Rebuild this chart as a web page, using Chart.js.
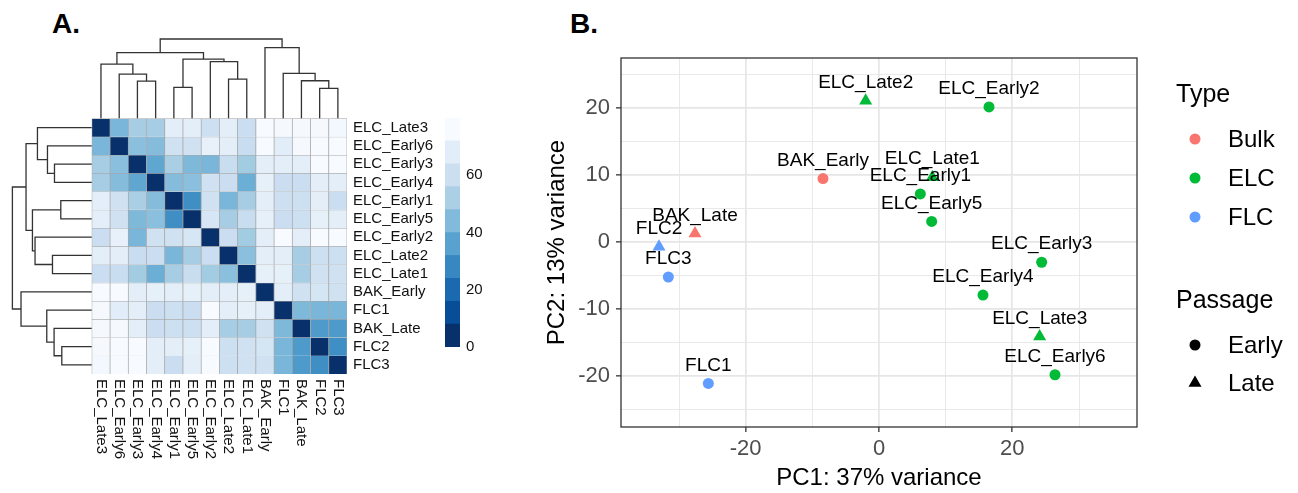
<!DOCTYPE html>
<html lang="en">
<head>
<meta charset="UTF-8">
<title>Sample distances and PCA</title>
<script src="https://cdn.jsdelivr.net/npm/chart.js"></script>
<style>
  body { margin: 0; background: #fff; font-family: "Liberation Sans", Arial, sans-serif; }
  .wrap { position: relative; width: 1298px; height: 493px; overflow: hidden; background: #fff; }
  .wrap canvas { position: absolute; }
  .tag { position: absolute; font-weight: bold; font-size: 28px; line-height: 1; color: #000; }
</style>
</head>
<body>
<div class="wrap">
  <div class="tag" style="left:52px; top:10px">A.</div>
  <div class="tag" style="left:570px; top:10px">B.</div>
  <canvas id="heat" style="left:0; top:0" width="440" height="493"></canvas>
  <canvas id="colorbar" style="left:430px; top:100px" width="80" height="270"></canvas>
  <canvas id="pca" style="left:530px; top:0" width="768" height="493"></canvas>
</div>

<script>
// ---- panel A: sample-to-sample distances (rows/columns in clustered order) ----
const sampleOrder = ['ELC_Late3', 'ELC_Early6', 'ELC_Early3', 'ELC_Early4', 'ELC_Early1', 'ELC_Early5',
  'ELC_Early2', 'ELC_Late2', 'ELC_Late1', 'BAK_Early', 'FLC1', 'BAK_Late', 'FLC2', 'FLC3'];

const distances = [
  [ 0, 43, 52, 52, 72, 72, 63, 72, 62, 80, 79, 79, 79, 78],
  [43,  0, 46, 45, 64, 64, 74, 72, 61, 80, 71, 79, 80, 80],
  [52, 46,  0, 37, 53, 44, 43, 61, 51, 72, 72, 72, 80, 80],
  [52, 45, 37,  0, 45, 46, 64, 62, 40, 73, 62, 62, 72, 72],
  [72, 64, 53, 45,  0, 29, 64, 43, 52, 72, 63, 63, 72, 62],
  [72, 64, 44, 46, 29,  0, 67, 52, 61, 73, 62, 63, 73, 72],
  [62, 74, 43, 64, 64, 67,  0, 62, 51, 72, 80, 72, 80, 80],
  [72, 72, 61, 62, 43, 52, 62,  0, 46, 72, 72, 52, 63, 63],
  [62, 61, 51, 40, 52, 61, 51, 46,  0, 73, 73, 52, 64, 64],
  [80, 80, 72, 73, 72, 73, 72, 72, 73,  0, 72, 64, 66, 64],
  [79, 71, 72, 62, 63, 62, 80, 72, 73, 72,  0, 44, 43, 43],
  [79, 79, 72, 62, 63, 63, 72, 52, 52, 64, 44,  0, 33, 33],
  [79, 80, 80, 72, 72, 73, 80, 63, 64, 66, 43, 33,  0, 29],
  [78, 80, 80, 72, 62, 72, 80, 63, 64, 64, 43, 33, 29,  0]
];

// hclust-style merges: negative = leaf (1-based position), positive = earlier merge
const mergeLeft   = [-13, -5, -3, -12, -8, -2, -11, -1, -7,  2,  8, -10, 11];
const mergeRight  = [-14, -6, -4,   1, -9,  3,   4,  6,  5,  9, 10,   7, 12];
const mergeHeight = [30, 31, 37.3, 37.7, 39.3, 44.3, 45, 54.3, 56.7, 59.3, 65.7, 70.7, 79.3];

const legendBreaks = [0, 8, 16, 24, 32, 40, 48, 56, 64, 72, 80];
const legendTicks = [0, 20, 40, 60];

// ---- panel B: PCA ----
const sampleNames = ['ELC_Late2', 'ELC_Early2', 'BAK_Early', 'ELC_Late1', 'ELC_Early1', 'ELC_Early5', 'BAK_Late',
  'FLC2', 'FLC3', 'FLC1', 'ELC_Early3', 'ELC_Early4', 'ELC_Late3', 'ELC_Early6'];
const pc1 = [-2.0, 16.5, -8.4, 8.0, 6.2, 7.9, -27.6, -33.0, -31.6, -25.6, 24.4, 15.6, 24.1, 26.4];
const pc2 = [21.1, 20.2, 9.5, 9.7, 7.2, 3.1, 1.3, -0.7, -5.2, -21.1, -3.0, -7.9, -14.1, -19.8];
const sampleType = ['ELC', 'ELC', 'Bulk', 'ELC', 'ELC', 'ELC', 'Bulk', 'FLC', 'FLC', 'FLC', 'ELC', 'ELC', 'ELC', 'ELC'];
const samplePassage = ['Late', 'Early', 'Early', 'Late', 'Early', 'Early', 'Late', 'Late', 'Early', 'Early',
  'Early', 'Early', 'Late', 'Early'];
const typeLevels = ['Bulk', 'ELC', 'FLC'];
const passageLevels = ['Early', 'Late'];
const xBreaks = [-20, 0, 20];
const xMinor = [-30, -10, 10, 30];
const yBreaks = [-20, -10, 0, 10, 20];
const yMinor = [-25, -15, -5, 5, 15, 25];

// styling
const FONT = '"Liberation Sans", Arial, sans-serif';
Chart.defaults.font.family = FONT;
const blues = ['#08306B', '#08519C', '#2171B5', '#4292C6', '#6BAED6', '#9ECAE1', '#C6DBEF', '#DEEBF7', '#F7FBFF'];
const typeColors = { Bulk: '#F8766D', ELC: '#00BA38', FLC: '#619CFF' };
const distMax = 80;
const dendroCells = 4.36; // room for the dendrograms, in cell units

function hexRgb(h) {
  const n = parseInt(h.slice(1), 16);
  return [(n >> 16) & 255, (n >> 8) & 255, n & 255];
}
function distColor(v) {
  const t = Math.max(0, Math.min(1, v / distMax)) * (blues.length - 1);
  const i = Math.min(Math.floor(t), blues.length - 2);
  const f = t - i;
  const a = hexRgb(blues[i]), b = hexRgb(blues[i + 1]);
  const c = a.map((x, k) => Math.round(x + (b[k] - x) * f));
  return 'rgb(' + c.join(',') + ')';
}

const nRows = sampleOrder.length;

// heatmap cells: one floating-bar dataset per row
const cellSets = distances.map((row, r) => ({
  type: 'bar',
  grouped: false,
  barPercentage: 1,
  categoryPercentage: 1,
  data: row.map((v, c) => ({ x: c + 0.5, y: [nRows - r - 1, nRows - r] })),
  backgroundColor: row.map(v => distColor(v)),
  borderColor: '#a6a6a6',
  borderWidth: 0.7
}));

// dendrogram segments
const hScale = dendroCells / Math.max(...mergeHeight);
const nodePos = [], nodeH = [];
const topSets = [], leftSets = [];
mergeHeight.forEach((h, j) => {
  const side = k => k < 0 ? [-k - 0.5, 0] : [nodePos[k - 1], nodeH[k - 1]];
  const [pa, ha] = side(mergeLeft[j]);
  const [pb, hb] = side(mergeRight[j]);
  nodePos.push((pa + pb) / 2);
  nodeH.push(h);
  const line = {
    type: 'line', borderColor: '#333', borderWidth: 1.3, pointRadius: 0,
    tension: 0, fill: false, clip: false
  };
  topSets.push(Object.assign({}, line, {
    data: [[pa, ha], [pa, h], [pb, h], [pb, hb]].map(([p, v]) => ({ x: p, y: nRows + v * hScale }))
  }));
  leftSets.push(Object.assign({}, line, {
    data: [[pa, ha], [pa, h], [pb, h], [pb, hb]].map(([p, v]) => ({ x: -v * hScale, y: nRows - p }))
  }));
});

const columnLabels = {
  id: 'columnLabels',
  afterDraw(chart) {
    const { ctx, chartArea, scales } = chart;
    ctx.save();
    ctx.font = '15px ' + FONT;
    ctx.fillStyle = '#111';
    ctx.textAlign = 'left';
    ctx.textBaseline = 'middle';
    sampleOrder.forEach((name, c) => {
      ctx.save();
      ctx.translate(scales.x.getPixelForValue(c + 0.5), chartArea.bottom + 5);
      ctx.rotate(Math.PI / 2);
      ctx.fillText(name, 0, 0);
      ctx.restore();
    });
    ctx.restore();
  }
};

new Chart(document.getElementById('heat'), {
  type: 'bar',
  data: { datasets: cellSets.concat(topSets, leftSets) },
  options: {
    responsive: false,
    animation: false,
    events: [],
    layout: { padding: { left: 12.4, top: 39, right: 0, bottom: 119 } },
    plugins: { legend: { display: false }, tooltip: { enabled: false } },
    scales: {
      x: {
        type: 'linear', min: -dendroCells, max: nRows, offset: false, display: false,
        afterBuildTicks: axis => { axis.ticks = sampleOrder.map((n, c) => ({ value: c + 0.5 })); }
      },
      y: {
        type: 'linear', position: 'right', min: 0, max: nRows + dendroCells,
        grid: { display: false, drawTicks: false },
        border: { display: false },
        afterBuildTicks: axis => { axis.ticks = sampleOrder.map((n, r) => ({ value: nRows - r - 0.5 })); },
        afterFit: axis => { axis.width = 93; },
        ticks: {
          autoSkip: false, padding: 6, color: '#111', font: { size: 15 },
          callback: (v, i) => sampleOrder[i]
        }
      }
    }
  },
  plugins: [columnLabels]
});

// colour key
new Chart(document.getElementById('colorbar'), {
  type: 'bar',
  data: {
    labels: [''],
    datasets: legendBreaks.slice(0, -1).map((lo, k) => ({
      data: [[lo, legendBreaks[k + 1]]],
      grouped: false,
      barPercentage: 1,
      categoryPercentage: 1,
      backgroundColor: distColor(k * distMax / (legendBreaks.length - 2)),
      borderWidth: 0
    }))
  },
  options: {
    responsive: false,
    animation: false,
    events: [],
    layout: { padding: { left: 15, top: 18, right: 0, bottom: 23 } },
    plugins: { legend: { display: false }, tooltip: { enabled: false } },
    scales: {
      x: { display: false },
      y: {
        position: 'right', min: 0, max: distMax,
        grid: { display: false, drawTicks: false },
        border: { display: false },
        afterBuildTicks: axis => { axis.ticks = legendTicks.map(v => ({ value: v })); },
        afterFit: axis => { axis.width = 50; },
        ticks: { padding: 6, color: '#111', font: { size: 15 } }
      }
    }
  }
});

// ---- panel B ----
const pcaDecor = {
  id: 'pcaDecor',
  afterDatasetsDraw(chart) {
    const { ctx } = chart;
    const pts = chart.getDatasetMeta(0).data;
    ctx.save();
    ctx.font = '19px ' + FONT;
    ctx.fillStyle = '#000';
    ctx.textAlign = 'center';
    ctx.textBaseline = 'middle';
    sampleNames.forEach((name, i) => {
      ctx.fillText(name, pts[i].x, pts[i].y - 18);
    });
    ctx.restore();
  },
  afterDraw(chart) {
    const { ctx, chartArea: a } = chart;
    ctx.save();
    ctx.strokeStyle = '#333';
    ctx.lineWidth = 1.3;
    ctx.strokeRect(a.left, a.top, a.right - a.left, a.bottom - a.top);

    // legend
    const x0 = a.right + 39, xk = a.right + 58, xl = a.right + 91;
    ctx.fillStyle = '#000';
    ctx.textAlign = 'left';
    ctx.textBaseline = 'middle';
    ctx.font = '25px ' + FONT;
    ctx.fillText('Type', x0, 95);
    ctx.fillText('Passage', x0, 301);
    ctx.font = '24px ' + FONT;
    typeLevels.forEach((t, k) => {
      const y = 139 + k * 39;
      ctx.fillStyle = typeColors[t];
      ctx.beginPath();
      ctx.arc(xk, y, 5.5, 0, Math.PI * 2);
      ctx.fill();
      ctx.fillStyle = '#000';
      ctx.fillText(t, xl, y + 1);
    });
    passageLevels.forEach((p, k) => {
      const y = 345 + k * 38;
      ctx.fillStyle = '#000';
      ctx.beginPath();
      if (p === 'Late') {
        ctx.moveTo(xk, y - 7.5);
        ctx.lineTo(xk + 6.5, y + 3.75);
        ctx.lineTo(xk - 6.5, y + 3.75);
        ctx.closePath();
      } else {
        ctx.arc(xk, y, 5.5, 0, Math.PI * 2);
      }
      ctx.fill();
      ctx.fillText(p, xl, y + 1);
    });
    ctx.restore();
  }
};

const gridColor = '#e6e6e6';
new Chart(document.getElementById('pca'), {
  type: 'scatter',
  data: {
    datasets: [{
      data: sampleNames.map((n, i) => ({ x: pc1[i], y: pc2[i] })),
      pointStyle: samplePassage.map(p => p === 'Late' ? 'triangle' : 'circle'),
      pointRadius: samplePassage.map(p => p === 'Late' ? 7.5 : 5.5),
      backgroundColor: sampleType.map(t => typeColors[t]),
      borderColor: sampleType.map(t => typeColors[t]),
      borderWidth: 0
    }]
  },
  options: {
    responsive: false,
    animation: false,
    events: [],
    layout: { padding: { left: 0, top: 58, right: 161, bottom: 0 } },
    plugins: { legend: { display: false }, tooltip: { enabled: false } },
    scales: {
      x: {
        type: 'linear', min: -38.7, max: 38.7,
        afterBuildTicks: axis => { axis.ticks = xMinor.concat(xBreaks).sort((a, b) => a - b).map(v => ({ value: v })); },
        afterFit: axis => { axis.height = 66; },
        grid: {
          color: gridColor,
          lineWidth: c => xBreaks.includes(c.tick.value) ? 1.7 : 0.9,
          tickLength: 5, tickWidth: 1.3,
          tickColor: c => xBreaks.includes(c.tick.value) ? '#333' : 'rgba(0,0,0,0)'
        },
        border: { display: false },
        ticks: {
          autoSkip: false, maxRotation: 0, padding: 4, color: '#4d4d4d', font: { size: 22 },
          callback: v => xBreaks.includes(v) ? String(v) : ''
        },
        title: { display: true, text: 'PC1: 37% variance', color: '#000', font: { size: 24 }, padding: { top: 11, bottom: 0 } }
      },
      y: {
        type: 'linear', min: -27.6, max: 27.5,
        afterBuildTicks: axis => { axis.ticks = yMinor.concat(yBreaks).sort((a, b) => a - b).map(v => ({ value: v })); },
        afterFit: axis => { axis.width = 91; },
        grid: {
          color: gridColor,
          lineWidth: c => yBreaks.includes(c.tick.value) ? 1.7 : 0.9,
          tickLength: 5, tickWidth: 1.3,
          tickColor: c => yBreaks.includes(c.tick.value) ? '#333' : 'rgba(0,0,0,0)'
        },
        border: { display: false },
        ticks: {
          autoSkip: false, padding: 6, color: '#4d4d4d', font: { size: 22 },
          callback: v => yBreaks.includes(v) ? String(v) : ''
        },
        title: { display: true, text: 'PC2: 13% variance', color: '#000', font: { size: 24 }, padding: { top: 13, bottom: 0 } }
      }
    }
  },
  plugins: [pcaDecor]
});
</script>
</body>
</html>
